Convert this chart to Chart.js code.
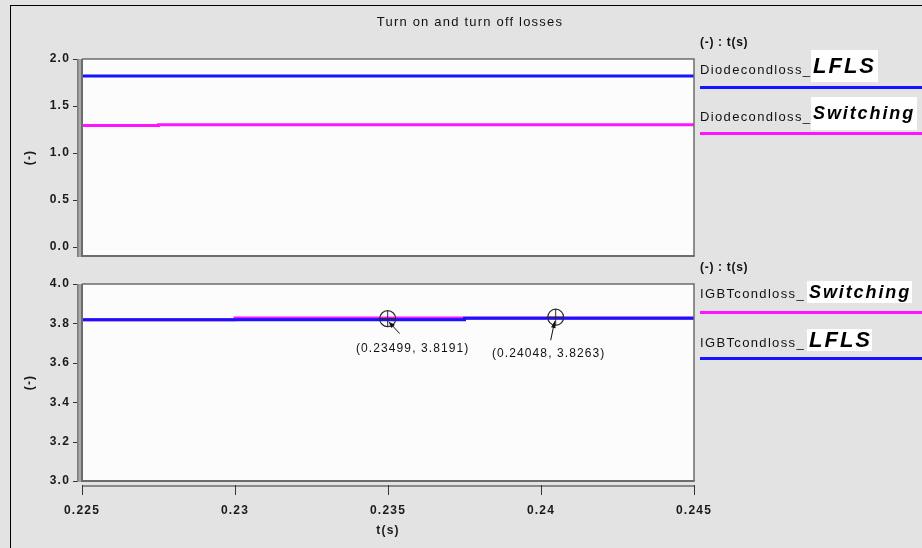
<!DOCTYPE html>
<html>
<head>
<meta charset="utf-8">
<script src="https://cdn.jsdelivr.net/npm/chart.js@4/dist/chart.umd.min.js"></script>
<style>
  html, body { margin: 0; padding: 0; }
  body {
    width: 922px; height: 548px; overflow: hidden; position: relative;
    background: #e3e3e3; font-family: "Liberation Sans", Arial, sans-serif; color: #111;
  }
  #panel { position: absolute; left: 10px; top: 5px; width: 940px; height: 560px;
           border-left: 1px solid #000; border-top: 1px solid #000; }
  canvas { position: absolute; left: 0; top: 0; }
  .title { position: absolute; left: 300px; width: 340px; top: 15px; text-align: center;
           font-size: 13px; line-height: 13px; letter-spacing: 1.2px; }
  .unit { position: absolute; left: 700px; font-size: 12px; line-height: 12px; font-weight: bold; letter-spacing: 0.7px; }
  .name { position: absolute; left: 700px; font-size: 13px; line-height: 13px; letter-spacing: 1.35px; white-space: nowrap; }
  .tag { position: absolute; background: #fff; font-weight: bold; font-style: italic; color: #000;
         white-space: nowrap; padding-left: 2px; box-sizing: border-box; }
  .swatch { position: absolute; left: 700px; width: 222px; height: 3px; }
</style>
</head>
<body>
<div id="panel"></div>
<canvas id="diodeChart" width="922" height="548"></canvas>
<canvas id="igbtChart" width="922" height="548"></canvas>

<div class="title">Turn on and turn off losses</div>

<!-- legend: diode conduction losses -->
<div class="unit" style="top:36px">(-) : t(s)</div>
<div class="name" style="top:63px">Diodecondloss_</div>
<div class="tag" style="left:811px;top:50px;width:67px;height:32px;font-size:22px;line-height:32px;letter-spacing:2px">LFLS</div>
<div class="swatch" style="top:86px;background:#1414ff"></div>
<div class="name" style="top:110px">Diodecondloss_</div>
<div class="tag" style="left:811px;top:97px;width:106px;height:33px;font-size:18px;line-height:33px;letter-spacing:1.9px">Switching</div>
<div class="swatch" style="top:132px;background:#ff14ff"></div>

<!-- legend: IGBT conduction losses -->
<div class="unit" style="top:261px">(-) : t(s)</div>
<div class="name" style="top:287px">IGBTcondloss_</div>
<div class="tag" style="left:807px;top:281px;width:105px;height:22px;font-size:18px;line-height:22px;letter-spacing:1.9px">Switching</div>
<div class="swatch" style="top:311px;background:#ff14ff"></div>
<div class="name" style="top:336px">IGBTcondloss_</div>
<div class="tag" style="left:807px;top:329px;width:65px;height:22px;font-size:22px;line-height:22px;letter-spacing:2px">LFLS</div>
<div class="swatch" style="top:357px;background:#1414ff"></div>

<script>
// Time axis (s) and value-axis tick positions
const timeTicks  = [0.225, 0.23, 0.235, 0.24, 0.245];
const diodeTicks = [0.0, 0.5, 1.0, 1.5, 2.0];
const igbtTicks  = [3.0, 3.2, 3.4, 3.6, 3.8, 4.0];

// Diode conduction loss (-) versus time (s)
const diodeTimeLFLS      = [0.225, 0.245];
const diodeLossLFLS      = [1.82, 1.82];
const diodeTimeSwitching = [0.225, 0.2275, 0.245];
const diodeLossSwitching = [1.29, 1.30, 1.30];

// IGBT conduction loss (-) versus time (s)
const igbtTimeLFLS      = [0.225, 0.2375, 0.245];
const igbtLossLFLS      = [3.8191, 3.8263, 3.8263];
const igbtTimeSwitching = [0.225, 0.23, 0.245];
const igbtLossSwitching = [3.8191, 3.8272, 3.8272];

// Cursor readouts on the IGBT plot
const cursorTimes  = [0.23499, 0.24048];
const cursorValues = [3.8191, 3.8263];

const BLUE = '#1414ff';
const MAGENTA = '#ff14ff';
const tickFont = { family: '"Liberation Sans", Arial, sans-serif', size: 12, weight: 'bold' };

const pts = (ts, vs) => ts.map((t, i) => ({ x: t, y: vs[i] }));

// Plot background, framed box, offset axis bars and tick marks
function framePlugin(withTimeAxis) {
  return {
    id: 'plotFrame',
    beforeLayout(chart) { chart.ctx.letterSpacing = '1.2px'; },
    beforeDraw(chart) {
      const { ctx, chartArea: a } = chart;
      ctx.letterSpacing = '1.2px';
      ctx.save();
      ctx.fillStyle = '#fcfcfc';
      ctx.fillRect(a.left, a.top, a.right - a.left, a.bottom - a.top);
      ctx.restore();
    },
    afterDraw(chart) {
      const { ctx, chartArea: a, scales } = chart;
      ctx.save();
      // top / right border of the plot box
      ctx.strokeStyle = '#6c6c6c';
      ctx.lineWidth = 1.5;
      ctx.beginPath();
      ctx.moveTo(a.left, a.top); ctx.lineTo(a.right, a.top); ctx.lineTo(a.right, a.bottom);
      ctx.stroke();
      // bottom border
      ctx.lineWidth = 2;
      ctx.beginPath();
      ctx.moveTo(a.left - 1, a.bottom); ctx.lineTo(a.right + 0.75, a.bottom);
      ctx.stroke();
      // left: doubled bar (axis line + box edge)
      ctx.fillStyle = '#a8a8a8';
      ctx.fillRect(a.left - 5, a.top, 5, a.bottom - a.top + 1);
      ctx.fillStyle = '#7a7a7a';
      ctx.fillRect(a.left - 5, a.top, 1.5, a.bottom - a.top + 1);
      ctx.fillStyle = '#6c6c6c';
      ctx.fillRect(a.left - 1, a.top, 2, a.bottom - a.top + 1);
      // y tick marks
      ctx.strokeStyle = '#333';
      ctx.lineWidth = 1;
      scales.y.ticks.forEach(t => {
        const py = Math.round(scales.y.getPixelForValue(t.value)) + 0.5;
        ctx.beginPath(); ctx.moveTo(a.left - 9, py); ctx.lineTo(a.left - 5, py); ctx.stroke();
      });
      if (withTimeAxis) {
        const yAxis = a.bottom + 4;
        ctx.fillStyle = '#8a8a8a';
        ctx.fillRect(a.left, yAxis, a.right - a.left + 1, 2);
        ctx.strokeStyle = '#333';
        scales.x.ticks.forEach(t => {
          const px = Math.round(scales.x.getPixelForValue(t.value)) + 0.5;
          ctx.beginPath(); ctx.moveTo(px, yAxis); ctx.lineTo(px, yAxis + 10); ctx.stroke();
        });
      }
      ctx.restore();
    }
  };
}

// Cursor markers with value readouts
const cursorPlugin = {
  id: 'cursors',
  afterDraw(chart) {
    const { ctx, scales } = chart;
    const offsets = [
      { label: [25, 29], from: [12, 14], to: [1, 2] },
      { label: [-7, 35], from: [-5, 22], to: [-1, 3] }
    ];
    ctx.save();
    cursorTimes.forEach((t, i) => {
      const px = scales.x.getPixelForValue(t);
      const py = scales.y.getPixelForValue(cursorValues[i]);
      const o = offsets[i];
      // ring with crosshair
      ctx.strokeStyle = '#2a2a2a';
      ctx.lineWidth = 1.2;
      ctx.beginPath(); ctx.arc(px, py - 1, 8, 0, Math.PI * 2); ctx.stroke();
      ctx.lineWidth = 1;
      ctx.beginPath();
      ctx.moveTo(px - 8, py - 1); ctx.lineTo(px + 8, py - 1);
      ctx.moveTo(px, py - 9); ctx.lineTo(px, py + 7);
      ctx.stroke();
      // pointer from the readout to the cursor
      const x0 = px + o.from[0], y0 = py + o.from[1];
      const x1 = px + o.to[0], y1 = py + o.to[1];
      ctx.strokeStyle = '#111';
      ctx.beginPath(); ctx.moveTo(x0, y0); ctx.lineTo(x1, y1); ctx.stroke();
      const ang = Math.atan2(y1 - y0, x1 - x0);
      ctx.fillStyle = '#111';
      ctx.beginPath();
      ctx.moveTo(x1, y1);
      ctx.lineTo(x1 - 7 * Math.cos(ang - 0.35), y1 - 7 * Math.sin(ang - 0.35));
      ctx.lineTo(x1 - 7 * Math.cos(ang + 0.35), y1 - 7 * Math.sin(ang + 0.35));
      ctx.closePath(); ctx.fill();
      // readout text
      ctx.letterSpacing = '1.1px';
      ctx.font = '12px "Liberation Sans", Arial, sans-serif';
      ctx.textAlign = 'center';
      ctx.textBaseline = 'middle';
      ctx.fillStyle = '#111';
      ctx.fillText('(' + t + ', ' + cursorValues[i] + ')', px + o.label[0], py + o.label[1]);
    });
    ctx.restore();
  }
};

function lossChart(id, datasets, yMin, yMax, yTicks, pad, withTimeAxis, extra) {
  return new Chart(document.getElementById(id), {
    type: 'line',
    data: { datasets },
    options: {
      responsive: false,
      animation: false,
      events: [],
      layout: { padding: pad },
      plugins: { legend: { display: false }, tooltip: { enabled: false } },
      elements: { point: { radius: 0 }, line: { tension: 0, stepped: true } },
      scales: {
        x: {
          type: 'linear', min: 0.225, max: 0.245, display: withTimeAxis,
          afterBuildTicks: s => { s.ticks = timeTicks.map(v => ({ value: v })); },
          afterFit: s => { s.height = withTimeAxis ? 57 : 0; s.paddingLeft = 0; s.paddingRight = 0; },
          grid: { display: false, drawTicks: false },
          border: { display: false },
          ticks: { padding: 22, font: tickFont, color: '#1a1a1a', maxRotation: 0, autoSkip: false,
                   callback: v => String(+v.toFixed(3)) },
          title: { display: true, text: 't(s)', font: tickFont, color: '#1a1a1a', padding: { top: 0, bottom: 0 } }
        },
        y: {
          type: 'linear', min: yMin, max: yMax,
          afterBuildTicks: s => { s.ticks = yTicks.map(v => ({ value: v })); },
          afterFit: s => { s.width = 62; s.paddingTop = 0; s.paddingBottom = 0; },
          grid: { display: false, drawTicks: false },
          border: { display: false },
          ticks: { padding: 12, font: tickFont, color: '#1a1a1a', callback: v => v.toFixed(1) },
          title: { display: true, text: '(-)', font: tickFont, color: '#1a1a1a', padding: { top: 2, bottom: 0 } }
        }
      }
    },
    plugins: [framePlugin(withTimeAxis)].concat(extra || [])
  });
}

lossChart('diodeChart', [
  { label: 'Diodecondloss_LFLS', data: pts(diodeTimeLFLS, diodeLossLFLS), borderColor: BLUE, borderWidth: 3 },
  { label: 'Diodecondloss_Switching', data: pts(diodeTimeSwitching, diodeLossSwitching), borderColor: MAGENTA, borderWidth: 3 }
], -0.1, 2.0, diodeTicks, { left: 20, right: 228, top: 59, bottom: 292 }, false);

lossChart('igbtChart', [
  { label: 'IGBTcondloss_LFLS', data: pts(igbtTimeLFLS, igbtLossLFLS), borderColor: BLUE, borderWidth: 3 },
  { label: 'IGBTcondloss_Switching', data: pts(igbtTimeSwitching, igbtLossSwitching), borderColor: MAGENTA, borderWidth: 3 }
], 3.0, 4.0, igbtTicks, { left: 20, right: 228, top: 284, bottom: 10 }, true, [cursorPlugin]);
</script>
</body>
</html>
